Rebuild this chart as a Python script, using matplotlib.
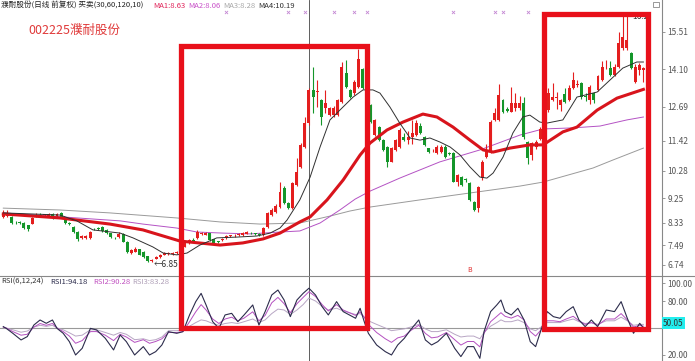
import numpy as np
import matplotlib as mpl
mpl.use('Agg')
import matplotlib.pyplot as plt
import matplotlib.transforms as mtransforms
from matplotlib.patches import Rectangle

plt.rcParams['font.family'] = ['Noto Sans CJK SC', 'DejaVu Sans']

# daily candles (price)
opens = [8.56, 8.58, 8.56, 8.36, 8.33, 8.32, 8.24, 8.30, 8.60, 8.62,
         8.61, 8.55, 8.67, 8.58, 8.69, 8.46, 8.32, 8.18, 7.99, 7.74,
         7.76, 7.74, 8.10, 8.12, 8.17, 8.05, 7.94, 7.75, 7.80, 7.92,
         7.62, 7.18, 7.24, 7.33, 7.23, 7.06, 6.90, 6.98, 7.05, 7.13,
         7.14, 7.15, 7.20, 7.28, 7.43, 7.55, 7.67, 7.74, 7.89, 7.88,
         7.93, 7.70, 7.62, 7.68, 7.76, 7.82, 7.85, 7.86, 7.87, 7.92,
         7.95, 7.92, 7.88, 7.87, 8.18, 8.62, 8.73, 8.93, 9.63, 9.08,
         8.87, 9.75, 10.44, 11.19, 12.07, 13.33, 13.24, 12.95, 12.64, 12.39,
         12.39, 12.39, 12.89, 13.95, 13.33, 13.20, 13.45, 14.10, 13.07, 12.76,
         11.63, 11.94, 11.44, 11.19, 10.63, 11.07, 11.19, 11.57, 11.46, 11.57,
         11.63, 11.97, 11.57, 11.13, 11.05, 10.94, 11.00, 11.19, 10.97, 10.94,
         9.87, 10.04, 9.95, 9.81, 9.12, 8.87, 10.00, 10.82, 11.00, 12.20,
         12.20, 12.95, 12.60, 12.51, 12.64, 12.64, 12.83, 11.38, 10.88, 11.19,
         11.50, 12.07, 12.57, 12.95, 13.02, 12.76, 13.16, 12.95, 13.39, 13.52,
         13.58, 13.08, 12.95, 13.20, 13.33, 13.70, 14.18, 14.14, 13.89, 14.20,
         14.90, 14.90, 14.71, 13.64, 14.08, 14.08]
closes = [8.71, 8.68, 8.31, 8.34, 8.32, 8.12, 8.08, 8.49, 8.63, 8.60,
          8.63, 8.67, 8.52, 8.67, 8.52, 8.31, 8.30, 7.99, 7.70, 7.83,
          7.82, 7.99, 8.08, 8.10, 8.03, 7.93, 7.78, 7.74, 7.92, 7.62,
          7.24, 7.30, 7.36, 7.12, 7.03, 6.90, 6.91, 7.05, 7.12, 7.18,
          7.19, 7.19, 7.21, 7.38, 7.58, 7.67, 7.66, 7.99, 7.94, 7.93,
          7.68, 7.57, 7.60, 7.69, 7.82, 7.83, 7.86, 7.87, 7.93, 7.98,
          7.93, 7.90, 7.87, 8.12, 8.70, 8.81, 8.97, 9.50, 9.06, 8.87,
          9.81, 10.25, 11.26, 12.07, 13.33, 13.07, 13.26, 12.32, 12.83, 12.64,
          12.64, 12.95, 14.20, 13.45, 13.07, 13.64, 14.48, 13.39, 12.83, 12.13,
          12.20, 11.44, 11.07, 10.63, 11.13, 11.44, 11.82, 11.44, 11.55, 11.70,
          12.07, 11.70, 11.26, 11.00, 11.06, 11.19, 11.19, 10.82, 10.92, 9.87,
          10.13, 9.75, 9.94, 9.19, 8.81, 9.69, 10.63, 11.00, 12.13, 12.45,
          13.14, 12.51, 12.55, 12.83, 12.83, 12.83, 11.57, 10.76, 11.33, 11.38,
          11.85, 12.57, 13.20, 13.07, 13.04, 12.95, 12.89, 13.39, 13.70, 13.53,
          13.07, 13.07, 13.43, 12.95, 13.85, 14.20, 14.20, 13.89, 14.20, 15.08,
          15.33, 15.21, 14.14, 14.20, 14.27, 14.14]
highs = [8.81, 8.80, 8.60, 8.40, 8.38, 8.34, 8.26, 8.55, 8.70, 8.68,
         8.66, 8.70, 8.70, 8.70, 8.72, 8.50, 8.36, 8.22, 8.02, 7.86,
         7.85, 8.02, 8.14, 8.18, 8.20, 8.08, 7.96, 7.78, 7.98, 7.96,
         7.64, 7.33, 7.40, 7.36, 7.26, 7.08, 6.95, 7.08, 7.15, 7.21,
         7.22, 7.22, 7.28, 7.40, 7.62, 7.72, 7.75, 8.05, 8.00, 7.98,
         7.96, 7.72, 7.66, 7.74, 7.86, 7.88, 7.92, 7.95, 7.97, 8.02,
         8.00, 7.96, 7.93, 8.16, 8.75, 8.90, 9.05, 9.87, 9.70, 9.12,
         9.87, 10.76, 11.32, 12.32, 13.40, 14.20, 13.70, 13.00, 13.33, 12.70,
         12.72, 13.00, 14.39, 14.46, 13.36, 13.70, 14.86, 14.15, 13.10, 12.80,
         12.25, 11.98, 11.48, 11.22, 11.18, 11.50, 11.90, 11.70, 11.80, 12.20,
         12.20, 12.08, 11.60, 11.15, 11.12, 11.25, 11.26, 11.25, 11.00, 11.00,
         10.18, 10.08, 10.00, 9.85, 9.15, 9.72, 10.70, 11.30, 12.20, 12.65,
         13.55, 13.00, 12.68, 13.45, 13.20, 13.10, 13.05, 11.42, 11.38, 11.45,
         11.95, 12.70, 13.40, 13.60, 13.25, 13.00, 13.40, 13.50, 14.00, 13.70,
         13.62, 13.20, 13.50, 13.25, 13.90, 14.40, 14.45, 14.40, 14.30, 15.50,
         16.20, 16.15, 14.75, 14.30, 14.35, 14.20]
lows = [8.52, 8.55, 8.28, 8.30, 8.28, 8.10, 8.03, 8.27, 8.55, 8.57,
        8.58, 8.53, 8.48, 8.56, 8.50, 8.29, 8.26, 7.96, 7.66, 7.71,
        7.73, 7.72, 8.04, 8.06, 8.00, 7.90, 7.75, 7.70, 7.76, 7.60,
        7.20, 7.15, 7.21, 7.10, 7.00, 6.87, 6.85, 6.95, 7.02, 7.10,
        7.11, 7.12, 7.15, 7.24, 7.40, 7.52, 7.62, 7.70, 7.85, 7.85,
        7.65, 7.53, 7.55, 7.63, 7.73, 7.78, 7.80, 7.82, 7.84, 7.89,
        7.90, 7.87, 7.84, 7.84, 8.15, 8.58, 8.70, 8.87, 9.02, 8.84,
        8.84, 9.72, 10.40, 11.15, 12.00, 12.46, 12.70, 12.01, 12.46, 12.35,
        12.30, 12.35, 12.85, 13.40, 13.02, 13.15, 13.40, 13.35, 12.80, 12.10,
        11.58, 11.40, 11.03, 10.44, 10.60, 11.03, 11.15, 11.40, 11.30, 11.30,
        11.58, 11.66, 11.20, 10.95, 10.98, 10.90, 10.96, 10.78, 10.88, 9.85,
        9.70, 9.72, 9.88, 9.15, 8.78, 8.75, 9.95, 10.78, 10.95, 12.15,
        12.15, 12.45, 12.50, 12.48, 12.55, 12.58, 11.50, 10.55, 10.70, 11.10,
        11.45, 12.00, 12.50, 12.90, 12.60, 12.55, 12.85, 12.90, 13.35, 13.45,
        13.00, 12.90, 12.80, 12.85, 13.30, 13.65, 14.10, 13.85, 13.85, 14.15,
        14.85, 14.85, 14.10, 13.60, 13.90, 13.64]

# moving averages read at sample candles
ma30_x = [0, 13.7, 25.8, 33.8, 42.8, 52.5, 58.0, 62.9, 67.0, 71.8,
          74.3, 78.4, 82.3, 86.4, 88.8, 92.9, 96.8, 101.6, 105.0, 108.9,
          113.0, 116.2, 118.6, 122.7, 127.5, 130.7, 135.5, 138.9, 143.8, 148.6, 155.0]
ma30 = [8.66, 8.51, 8.28, 8.06, 7.64, 7.49, 7.57, 7.72, 7.94, 8.36,
        8.55, 9.19, 9.94, 10.88, 11.33, 11.82, 12.12, 12.42, 12.31, 11.93,
        11.44, 11.07, 10.99, 11.14, 11.26, 11.26, 11.75, 11.93, 12.57, 13.02, 13.35]
ma10_x = [0, 13.7, 17.8, 21.7, 28.3, 31.4, 36.2, 38.7, 42.0, 44.5,
          47.6, 51.7, 56.6, 61.4, 64.6, 67.0, 68.7, 71.8, 74.3, 76.7,
          79.1, 81.5, 84.7, 87.1, 89.5, 91.2, 93.6, 96.0, 98.5, 100.9,
          103.3, 105.7, 108.2, 110.6, 113.0, 115.4, 117.1, 118.6, 121.0, 123.4,
          125.8, 127.5, 129.9, 131.6, 135.5, 138.9, 143.8, 146.9, 150.0, 153.4, 155.0]
ma10 = [8.70, 8.62, 8.40, 8.06, 7.94, 7.76, 7.42, 7.19, 7.12, 7.19,
        7.49, 7.76, 7.79, 7.83, 7.94, 8.13, 8.43, 9.19, 10.05, 11.18,
        12.20, 12.57, 13.06, 13.33, 13.33, 13.21, 12.69, 12.08, 11.52, 11.44,
        11.52, 11.37, 11.18, 10.88, 10.43, 10.05, 10.01, 10.20, 10.80, 11.71,
        12.31, 12.38, 12.12, 12.08, 12.20, 13.06, 13.25, 13.70, 14.15, 14.38, 14.38]
ma60_x = [0, 28.3, 33.8, 42.0, 46.9, 53.2, 59.7, 67.0, 71.8, 76.7, 81.5,
          85.2, 88.8, 96.0, 105.7, 115.4, 125.1, 130.7, 137.9, 144.5, 151.0, 155.0]
ma60 = [8.70, 8.40, 8.28, 8.13, 7.98, 7.94, 7.91, 7.98, 8.02, 8.32, 8.81,
        9.22, 9.52, 10.01, 10.62, 11.07, 11.63, 11.86, 11.90, 11.97, 12.20, 12.31]
ma120_x = [0, 13.7, 25.8, 42.0, 52.5, 62.2, 71.8, 79.1, 83.9, 88.8,
           100.9, 113.0, 125.1, 130.7, 142.8, 147.6, 155.0]
ma120 = [8.88, 8.81, 8.70, 8.51, 8.36, 8.28, 8.32, 8.58, 8.77, 8.92,
         9.19, 9.45, 9.71, 9.86, 10.39, 10.69, 11.14]

# RSI panel
rsi_x = [0, 0.7, 2.3, 4.3, 5.8, 7.4, 8.9, 10.4, 11.9, 13.0,
         14.5, 16.0, 17.5, 19.1, 21.1, 22.6, 24.7, 26.7, 28.3, 29.8,
         31.8, 33.9, 35.4, 36.9, 38.4, 40.0, 42.0, 43.5, 45.1, 46.6,
         47.9, 49.1, 50.7, 52.2, 53.7, 55.3, 56.8, 58.3, 60.4, 61.9,
         63.4, 65.0, 66.5, 68.0, 69.5, 71.1, 72.6, 74.0, 75.6, 77.2,
         78.7, 80.7, 82.3, 83.8, 85.3, 86.4, 87.4, 88.4, 90.4, 92.5,
         94.0, 95.5, 97.1, 98.6, 100.6, 102.2, 103.7, 105.2, 107.3, 109.3,
         110.8, 112.4, 113.9, 115.4, 116.4, 118.0, 119.5, 120.5, 121.5, 123.0,
         124.6, 126.1, 127.6, 128.9, 130.2, 131.7, 133.2, 134.8, 136.3, 138.0,
         139.4, 140.9, 142.4, 143.9, 146.0, 148.0, 149.6, 151.1, 152.6, 154.1, 155.0]
rsi1 = [51.5, 49.6, 44.1, 36.7, 40.4, 53.3, 58.9, 55.2, 58.9, 49.6,
        44.1, 34.8, 20.0, 27.4, 49.6, 47.8, 38.5, 25.6, 42.2, 34.8,
        20.0, 29.3, 20.0, 23.7, 31.1, 45.9, 44.1, 45.9, 64.5, 79.3,
        88.5, 75.6, 57.0, 49.6, 64.5, 66.3, 57.0, 64.5, 75.6, 53.3,
        68.2, 86.7, 92.2, 81.1, 62.6, 81.1, 88.5, 94.2, 86.7, 73.7,
        64.5, 79.3, 68.2, 64.5, 60.8, 71.9, 57.0, 44.1, 31.1, 23.7,
        20.0, 31.1, 38.5, 47.8, 58.9, 36.7, 31.1, 34.8, 44.1, 27.4,
        18.2, 29.3, 29.3, 16.3, 45.9, 68.2, 75.6, 81.1, 68.2, 64.5,
        71.9, 58.9, 34.8, 29.3, 47.8, 68.2, 62.6, 60.8, 68.2, 73.7,
        58.9, 51.5, 58.9, 51.5, 70.0, 68.2, 79.3, 60.8, 44.1, 55.2, 50.1]
rsi2 = [51, 50, 46, 42, 43, 51, 55, 53, 55, 50,
        46, 41, 33, 36, 46, 46, 42, 36, 43, 40,
        34, 37, 33, 35, 38, 45, 45, 46, 57, 68,
        76, 70, 60, 55, 60, 62, 58, 61, 68, 58,
        64, 78, 84, 77, 67, 77, 84, 90.3, 85, 76,
        69, 76, 70, 67, 64, 68, 62, 54, 45, 38,
        34, 39, 41, 47, 53, 44, 39, 40, 45, 37,
        31, 35, 35, 29, 44, 57, 63, 67, 63, 61,
        64, 59, 46, 41, 48, 58, 58, 57, 60, 63,
        58, 54, 56, 53, 60, 60, 66, 59, 51, 53, 52]
rsi3 = [50.5, 49.9, 48, 45.3, 46.6, 51, 53, 51.8, 53, 50,
        48, 44.7, 41, 42, 48, 48, 45, 42, 45, 43,
        37, 38, 36, 37, 40, 47, 47, 48, 52, 56,
        59, 58, 55, 53, 55, 56, 55, 57, 60, 56,
        59, 66, 71, 70, 65, 70, 76, 83.3, 80, 74,
        70, 72, 69, 67, 65, 66, 62, 58, 54, 50,
        47, 48, 49, 51, 54, 49, 46, 46, 48, 43,
        40, 41, 41, 38, 45, 52, 56, 59, 57, 57,
        59, 56, 49, 47, 51, 56, 56, 56, 58, 60,
        57, 55, 56, 54, 58, 58, 62, 58, 53, 54, 54]

price_ticks = [15.51, 14.10, 12.69, 11.42, 10.28, 9.25, 8.33, 7.49, 6.74]
rsi_ticks = [100, 80, 50, 20]
rsi_labels = ['100.00', '80.00', '', '20.00']
signal_x = [54, 69, 73, 80, 85, 88, 109, 119, 121, 127]
cross_x = 74

W, H = 695, 361
fig = plt.figure(figsize=(W / 100, H / 100), dpi=100)
fig.patch.set_facecolor('white')


def fx(x):
    return x / W


def fy(y):
    return 1 - y / H


ax = fig.add_axes([0, fy(276), fx(662), 276 / H])
ax2 = fig.add_axes([0, 0, fx(662), 85 / H])
for a in (ax, ax2):
    a.set_xlim(-0.8, 159.5)
    a.set_xticks([])
    for s in ('top', 'left', 'bottom'):
        a.spines[s].set_visible(False)
    a.spines['right'].set_color('#888888')
    a.spines['right'].set_linewidth(0.8)
    a.yaxis.tick_right()
    a.tick_params(axis='y', length=2, width=0.6, color='#888888',
                  labelsize=6, labelcolor='#555555', pad=2)

ax.set_ylim(6.325, 16.714)
ax2.set_ylim(13.3, 107.8)

# candles
x = np.arange(len(opens))
o = np.array(opens)
c = np.array(closes)
col = np.where(c >= o, '#e41e1e', '#14962a')
ax.vlines(x, lows, highs, colors=col, lw=0.8, zorder=3)
ax.bar(x, np.maximum(np.abs(c - o), 0.03), bottom=np.minimum(o, c), width=0.72,
       color=col, linewidth=0, zorder=3)

ax.plot(ma120_x, ma120, color='#9a9a9a', lw=0.7, zorder=2)
ax.plot(ma60_x, ma60, color='#b452c4', lw=0.7, zorder=2)
ax.plot(ma30_x, ma30, color='#d8141c', lw=2.2, zorder=4)
ax.plot(ma10_x, ma10, color='#303030', lw=0.7, zorder=4)

ax.set_yticks(price_ticks)
ax.set_yticklabels([f'{t:.2f}' for t in price_ticks])

ax.axvline(cross_x, color='#444444', lw=0.6, zorder=1)
ax2.axvline(cross_x, color='#444444', lw=0.6, zorder=1)

tr = mtransforms.blended_transform_factory(ax.transData, ax.transAxes)
ax.scatter(signal_x, [0.955] * len(signal_x), transform=tr, marker='x', s=5,
           c='#c488d4', linewidths=0.6, zorder=5)

low_i = int(np.argmin(lows))
ax.text(low_i + 0.3, lows[low_i] - 0.08, '←6.85', fontsize=6, color='#333333',
        ha='left', va='center')
high_i = int(np.argmax(highs))
ax.text(high_i + 2.3, highs[high_i] - 0.1, '16.2', fontsize=6, color='#333333',
        ha='left', va='center')
ax.text(113, 6.55, 'B', fontsize=5, color='#e03030', ha='center', va='center')

# RSI
ax2.axhline(50, color='#999999', lw=0.8, zorder=1)
ax2.plot(rsi_x, rsi3, color='#b8a6c4', lw=0.7)
ax2.plot(rsi_x, rsi2, color='#b450c0', lw=0.7)
ax2.plot(rsi_x, rsi1, color='#2c2c4c', lw=0.8)
ax2.set_yticks(rsi_ticks)
ax2.set_yticklabels(rsi_labels)
fig.text(fx(663), fy(323), '50.05', fontsize=6, color='#333333', va='center',
         bbox=dict(facecolor='#22eeee', edgecolor='none', pad=0.8))

# separator
fig.add_artist(plt.Line2D([0, 1], [fy(276), fy(276)], color='#888888', lw=0.8,
                          transform=fig.transFigure))
fig.add_artist(Rectangle((fx(653), fy(7)), fx(6), 5 / H, fill=False,
                         ec='#888888', lw=0.6, transform=fig.transFigure))

# titles
fig.text(fx(1), fy(5.5), '濮耐股份(日线 前复权) 买卖(30,60,120,10)', fontsize=5.5,
         color='#222222', va='center')
for xp, txt, cl in [(153, 'MA1:8.63', '#e0245a'), (188, 'MA2:8.06', '#c850c8'),
                    (223, 'MA3:8.28', '#a8a8a8'), (258, 'MA4:10.19', '#303030')]:
    fig.text(fx(xp), fy(5.5), txt, fontsize=5.5, color=cl, va='center')
fig.text(fx(28), fy(30), '002225濮耐股份', fontsize=9, color='#e03a3a', va='center')

for xp, txt, cl in [(1, 'RSI(6,12,24)', '#333333'), (50, 'RSI1:94.18', '#2c2c4c'),
                    (93, 'RSI2:90.28', '#c050c0'), (132, 'RSI3:83.28', '#b0a0b8')]:
    fig.text(fx(xp), fy(281.5), txt, fontsize=5.5, color=cl, va='center')

# red highlight boxes
for x0, y0, x1, y1 in [(181, 46, 367, 328), (544, 13.5, 648, 328.5)]:
    fig.add_artist(Rectangle((fx(x0), fy(y1)), fx(x1) - fx(x0), (y1 - y0) / H,
                             fill=False, ec='#e8101a', lw=3.8,
                             transform=fig.transFigure, zorder=10))

fig.savefig('out.png', dpi=100)
